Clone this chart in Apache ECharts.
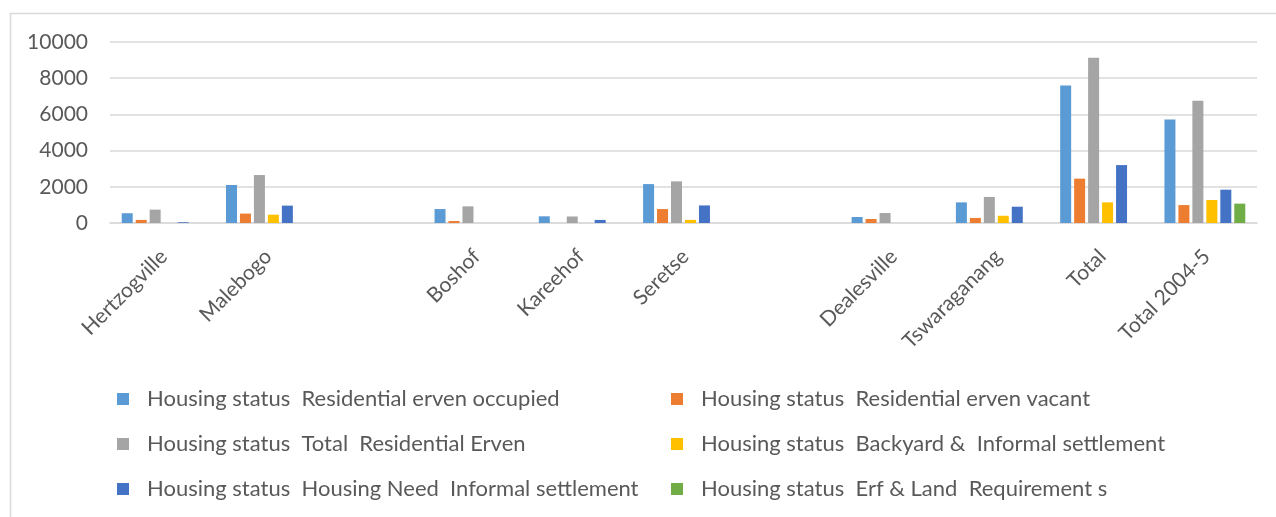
<!DOCTYPE html>
<html>
<head>
<meta charset="utf-8">
<script src="https://cdn.jsdelivr.net/npm/echarts@6/dist/echarts.min.js"></script>
<style>
  html, body { margin: 0; padding: 0; background: #fff; }
  #chart { width: 1276px; height: 517px; }
</style>
</head>
<body>
<div id="chart"></div>
<script>
// categories (the two blank ones are gaps in the source table)
var towns = ['Hertzogville', 'Malebogo', '', 'Boshof', 'Kareehof', 'Seretse', '', 'Dealesville', 'Tswaraganang', 'Total', 'Total 2004-5'];

var seriesNames = [
    'Housing status  Residential erven occupied',
    'Housing status  Residential erven vacant',
    'Housing status  Total  Residential Erven',
    'Housing status  Backyard &  Informal settlement',
    'Housing status  Housing Need  Informal settlement',
    'Housing status  Erf & Land  Requirement s'
];

var occupied   = [540, 2100, null, 770, 370, 2150, null, 330, 1140, 7600, 5720];
var vacant     = [170, 520, null, 110, 0, 770, null, 220, 280, 2450, 990];
var totalErven = [740, 2650, null, 920, 360, 2300, null, 550, 1440, 9130, 6750];
var backyard   = [0, 460, null, 0, 0, 170, null, 0, 400, 1140, 1270];
var housingNeed = [40, 960, null, 0, 170, 970, null, 0, 900, 3200, 1840];
var erfLand    = [0, 0, null, 0, 0, 0, null, 0, 0, 0, 1070];

var yTicks = [0, 2000, 4000, 6000, 8000, 10000];

var colors = ['#5B9BD5', '#ED7D31', '#A5A5A5', '#FFC000', '#4472C4', '#70AD47'];
var values = [occupied, vacant, totalErven, backyard, housingNeed, erfLand];

var myChart = echarts.init(document.getElementById('chart'));

var series = [];
for (var i = 0; i < values.length; i++) {
    series.push({
        name: seriesNames[i],
        type: 'bar',
        barWidth: 11,
        barGap: '27%',
        itemStyle: { color: colors[i] },
        data: values[i]
    });
}

var legendText = { color: '#595959', fontSize: 22, fontFamily: 'Lato', lineHeight: 22, padding: [0, 0, 0, 13] };

option = {
    animation: false,
    color: colors,
    textStyle: { fontFamily: 'Lato' },
    graphic: [
        {
            type: 'polyline',
            shape: { points: [[10.5, 520], [10.5, 13.5], [1280, 13.5]] },
            style: { stroke: '#d9d9d9', lineWidth: 1.5, fill: null },
            silent: true
        }
    ],
    grid: { left: 110, right: 19, top: 42, bottom: 294 },
    legend: [
        {
            orient: 'vertical',
            left: 117,
            top: 388,
            padding: 0,
            itemWidth: 12,
            itemHeight: 12,
            itemGap: 23,
            icon: 'rect',
            textStyle: legendText,
            data: [seriesNames[0], seriesNames[2], seriesNames[4]]
        },
        {
            orient: 'vertical',
            left: 671,
            top: 388,
            padding: 0,
            itemWidth: 12,
            itemHeight: 12,
            itemGap: 23,
            icon: 'rect',
            textStyle: legendText,
            data: [seriesNames[1], seriesNames[3], seriesNames[5]]
        }
    ],
    xAxis: {
        type: 'category',
        data: towns,
        axisLine: { lineStyle: { color: '#d9d9d9', width: 1.5 } },
        axisTick: { show: false },
        axisLabel: {
            interval: 0,
            rotate: 45,
            margin: 17,
            verticalAlign: 'top',
            padding: [0, 8, 0, 0],
            color: '#595959',
            fontSize: 21,
            fontFamily: 'Lato'
        }
    },
    yAxis: {
        type: 'value',
        min: yTicks[0],
        max: yTicks[yTicks.length - 1],
        interval: yTicks[1] - yTicks[0],
        axisLine: { show: false },
        axisTick: { show: false },
        splitLine: { lineStyle: { color: '#d9d9d9', width: 1.5 } },
        axisLabel: {
            color: '#595959',
            fontSize: 21,
            fontFamily: 'Lato',
            margin: 22,
            formatter: function (v) { return String(v); }
        }
    },
    series: series
};

myChart.setOption(option);
</script>
</body>
</html>
